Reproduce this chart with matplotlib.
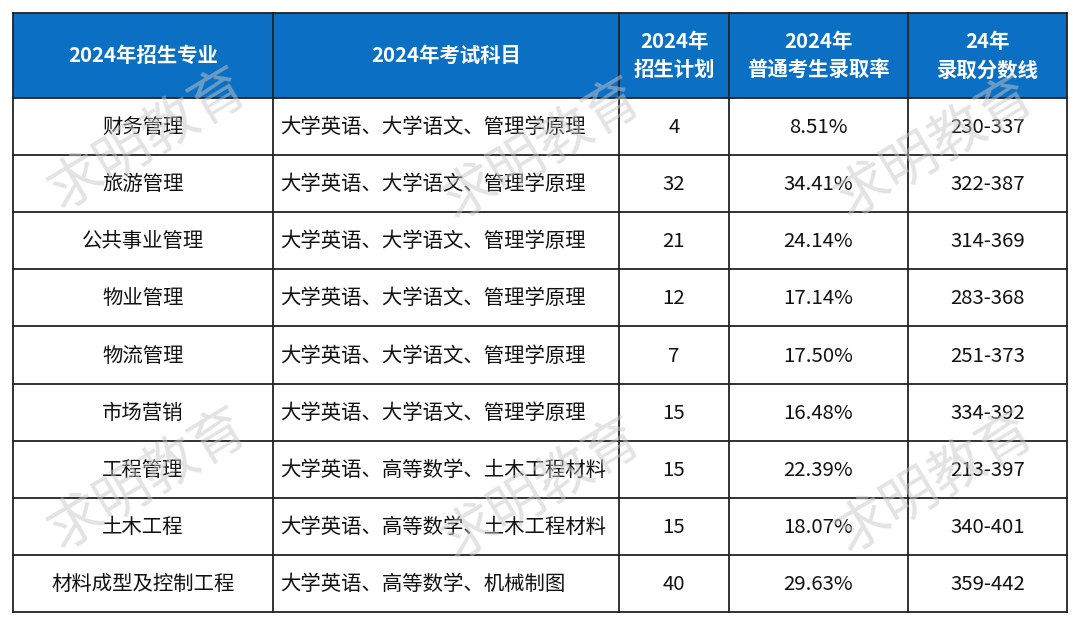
import matplotlib
matplotlib.use("Agg")
import matplotlib.pyplot as plt
from matplotlib.patches import Rectangle

plt.rcParams['font.family'] = ['Noto Sans CJK SC', 'DejaVu Sans']

# ---- data ----
headers = ["2024年招生专业", "2024年考试科目", "2024年\n招生计划", "2024年\n普通考生录取率", "24年\n录取分数线"]
majors = ["财务管理", "旅游管理", "公共事业管理", "物业管理", "物流管理",
          "市场营销", "工程管理", "土木工程", "材料成型及控制工程"]
subjects = ["大学英语、大学语文、管理学原理"] * 6 + [
    "大学英语、高等数学、土木工程材料",
    "大学英语、高等数学、土木工程材料",
    "大学英语、高等数学、机械制图"]
plans = [4, 32, 21, 12, 7, 15, 15, 15, 40]
rates = ["8.51%", "34.41%", "24.14%", "17.14%", "17.50%", "16.48%", "22.39%", "18.07%", "29.63%"]
scores = ["230-337", "322-387", "314-369", "283-368", "251-373", "334-392", "213-397", "340-401", "359-442"]
watermark = "求明教育"

# ---- layout ----
W, H = 1080, 625
col_edges = [13, 273, 619, 729, 908, 1067]
top, header_bottom, bottom = 13, 98, 612
n = len(majors)
row_h = (bottom - header_bottom) / n
header_color = "#0b6fc3"
line_color = "#222222"
fs = 14.7

fig = plt.figure(figsize=(W / 100, H / 100), dpi=100)
ax = fig.add_axes([0, 0, 1, 1])
ax.set_xlim(0, W)
ax.set_ylim(H, 0)
ax.axis("off")

# header background
ax.add_patch(Rectangle((col_edges[0], top), col_edges[-1] - col_edges[0], header_bottom - top,
                       facecolor=header_color, edgecolor="none", zorder=1))

# header texts
for i, h in enumerate(headers):
    cx = (col_edges[i] + col_edges[i + 1]) / 2
    cy = (top + header_bottom) / 2
    ax.text(cx, cy, h, ha="center", va="center", color="white", fontsize=fs,
            fontweight="bold", linespacing=1.45, zorder=3)

# body texts
for r in range(n):
    cy = header_bottom + (r + 0.5) * row_h + 1
    cells = [majors[r], subjects[r], str(plans[r]), rates[r], scores[r]]
    for c, t in enumerate(cells):
        if c == 1:
            ax.text(col_edges[1] + 7, cy, t, ha="left", va="center", color="#111111",
                    fontsize=fs, fontweight="medium", zorder=3)
        else:
            cx = (col_edges[c] + col_edges[c + 1]) / 2
            ax.text(cx, cy, t, ha="center", va="center", color="#111111",
                    fontsize=fs, fontweight="medium", zorder=3)

# grid lines
for x in col_edges:
    ax.plot([x, x], [top, bottom], color=line_color, lw=1.3, zorder=4, solid_capstyle="projecting")
ys = [top, header_bottom] + [header_bottom + (r + 1) * row_h for r in range(n)]
for y in ys:
    ax.plot([col_edges[0], col_edges[-1]], [y, y], color=line_color, lw=1.3, zorder=4,
            solid_capstyle="projecting")

# watermarks
wm_centers = [(148, 140), (542, 150), (935, 148), (148, 480), (542, 490), (935, 483)]
for (wx, wy) in wm_centers:
    ax.text(wx, wy, watermark, ha="center", va="center", rotation=31, rotation_mode="anchor",
            fontsize=40, fontweight="light", color="#c8c8c8", alpha=0.5, zorder=5)

fig.savefig("out.png", dpi=100, facecolor="white")
